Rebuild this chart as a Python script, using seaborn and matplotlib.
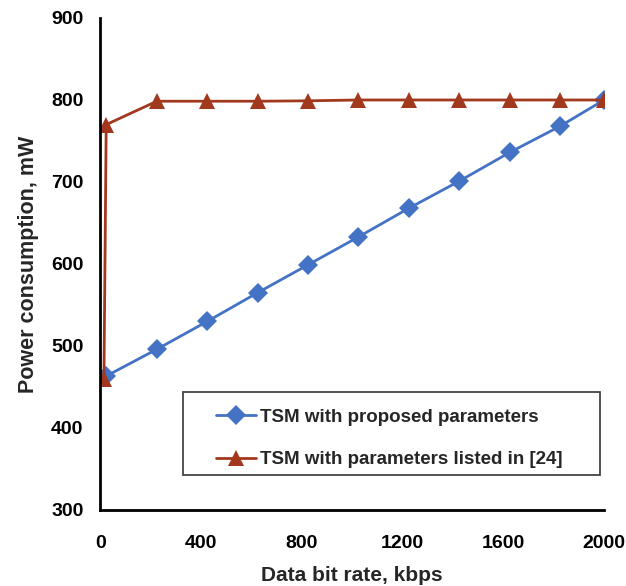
import pandas as pd
import matplotlib
matplotlib.use('Agg')
import matplotlib.pyplot as plt
from matplotlib.patches import Rectangle
import seaborn as sns

# data
blue_label = 'TSM with proposed parameters'
red_label = 'TSM with parameters listed in [24]'

blue_x = [22, 225, 425, 625, 825, 1025, 1225, 1425, 1625, 1825, 2000]
blue_y = [463, 496, 530, 565, 599, 633, 668, 701, 736, 768, 800]

red_x = [15, 24, 225, 425, 625, 825, 1025, 1225, 1425, 1625, 1825, 2000]
red_y = [460, 770, 798.5, 798.5, 798.5, 799, 800, 800, 800, 800, 800, 800]

df = pd.concat([
    pd.DataFrame({'rate': blue_x, 'power': blue_y, 'series': blue_label}),
    pd.DataFrame({'rate': red_x, 'power': red_y, 'series': red_label}),
], ignore_index=True)

sns.set_style('white')
plt.rcParams['font.family'] = ['Liberation Sans', 'DejaVu Sans']
plt.rcParams['font.weight'] = 'bold'

fig = plt.figure(figsize=(6.26, 5.86), dpi=100)
ax = fig.add_axes([0.16, 0.1297, 0.805, 0.8396])

sns.lineplot(data=df, x='rate', y='power', hue='series', style='series',
             palette={blue_label: '#4472C4', red_label: '#A2381D'},
             markers={blue_label: 'D', red_label: '^'}, dashes=False,
             sort=False, estimator=None, linewidth=2.0, markersize=10,
             markeredgewidth=0, ax=ax)
ax.get_legend().remove()

line_blue, line_red = ax.lines[0], ax.lines[1]
line_blue.set_markersize(10)
line_red.set_markersize(12)

ax.set_xlim(0, 2000)
ax.set_ylim(300, 900)
ax.set_xticks([0, 400, 800, 1200, 1600, 2000])
ax.set_yticks([300, 400, 500, 600, 700, 800, 900])
ax.tick_params(direction='in', length=5, width=1.5, labelsize=14, colors='black')
ax.tick_params(axis='x', pad=18)
ax.tick_params(axis='y', pad=12)
for lab in ax.get_xticklabels() + ax.get_yticklabels():
    lab.set_fontweight('bold')

for s in ['top', 'right']:
    ax.spines[s].set_visible(False)
for s in ['left', 'bottom']:
    ax.spines[s].set_color('black')
    ax.spines[s].set_linewidth(2)

ax.set_xlabel('Data bit rate, kbps', fontsize=15, fontweight='bold', labelpad=10)
ax.set_ylabel('Power consumption, mW', fontsize=15.5, fontweight='bold', labelpad=9)

# legend box like the Excel one
box = Rectangle((0.165, 0.071), 0.827, 0.169, transform=ax.transAxes,
                facecolor='white', edgecolor='#444444', linewidth=1.3, zorder=5)
ax.add_patch(box)
leg = ax.legend(handles=[line_blue, line_red], labels=[blue_label, red_label],
                loc='center left', bbox_to_anchor=(0.212, 0.145), frameon=False,
                handlelength=2.1, handletextpad=0.25, borderpad=0, labelspacing=1.35,
                prop={'weight': 'bold', 'size': 13.5})
leg.set_zorder(6)

fig.savefig('out.png', dpi=100)
